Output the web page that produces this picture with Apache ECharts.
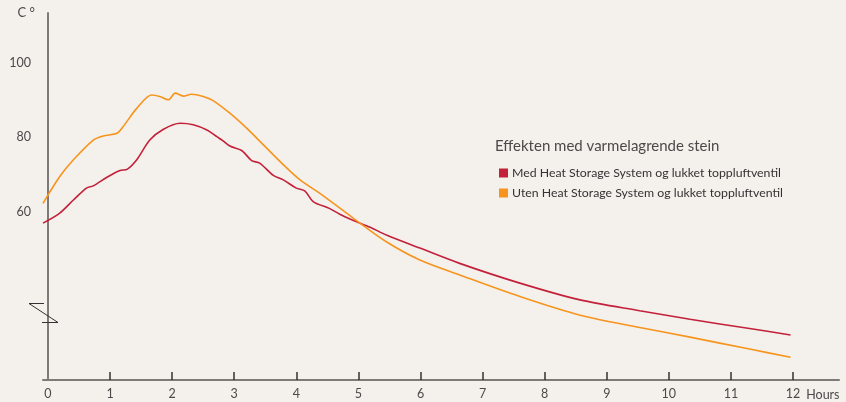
<!DOCTYPE html>
<html>
<head>
<meta charset="utf-8">
<script src="https://cdn.jsdelivr.net/npm/echarts@6/dist/echarts.min.js"></script>
<style>
  html, body { margin: 0; padding: 0; background: #f4f1ec; }
  #chart { width: 846px; height: 402px; }
</style>
</head>
<body>
<div id="chart"></div>
<script>
const hourTicks = [0, 1, 2, 3, 4, 5, 6, 7, 8, 9, 10, 11, 12];
const tempTicks = [60, 80, 100];

// Med Heat Storage System (red)
const medHours = [-0.08, 0.19, 0.41, 0.62, 0.73, 0.95, 1.16, 1.28, 1.43, 1.64, 1.86, 2.13, 2.34, 2.56, 2.72, 2.82, 2.93, 3.12, 3.28, 3.41, 3.63, 3.79, 4.0, 4.14, 4.27, 4.54, 4.70, 4.92, 5.19, 5.45, 5.99, 6.63, 7.60, 8.57, 9.53, 10.34, 11.30, 11.96];
const medTemp = [57.0, 59.7, 63.2, 66.4, 67.0, 69.3, 71.1, 71.5, 74.0, 79.3, 82.2, 83.8, 83.4, 82.0, 80.2, 79.1, 77.7, 76.5, 73.8, 73.1, 69.8, 68.6, 66.4, 65.6, 62.8, 60.9, 59.4, 57.7, 55.9, 53.8, 50.3, 46.2, 40.9, 36.4, 33.5, 31.2, 28.7, 27.0];

// Uten Heat Storage System (orange)
const utenHours = [-0.08, 0.19, 0.41, 0.73, 0.89, 1.11, 1.21, 1.43, 1.67, 1.80, 1.94, 2.05, 2.18, 2.31, 2.50, 2.66, 2.93, 3.20, 3.47, 3.74, 4.06, 4.38, 4.92, 5.45, 5.99, 6.63, 7.60, 8.57, 9.53, 10.34, 11.30, 11.96];
const utenTemp = [62.3, 69.5, 74.0, 79.3, 80.4, 81.1, 82.9, 87.8, 91.4, 91.0, 90.1, 91.9, 91.1, 91.6, 91.0, 89.9, 86.5, 82.5, 78.0, 73.5, 68.6, 65.0, 58.3, 52.0, 47.1, 43.1, 37.3, 32.3, 29.0, 26.4, 23.2, 21.0];

const seriesNames = ['Med Heat Storage System og lukket toppluftventil', 'Uten Heat Storage System og lukket toppluftventil'];
const chartTitle = 'Effekten med varmelagrende stein';

const BG = '#f4f1ec';
const AXIS = '#7e7a77';
const TXT = '#4a4a4a';
const FONT = 'Lato, "Open Sans", sans-serif';

const chart = echarts.init(document.getElementById('chart'));

chart.setOption({
    backgroundColor: BG,
    animation: false,
    textStyle: { fontFamily: FONT },
    title: {
        text: chartTitle,
        left: 495, top: 139, padding: 0,
        textStyle: { fontSize: 15, fontWeight: 'normal', color: TXT, fontFamily: FONT }
    },
    legend: {
        orient: 'vertical',
        left: 499, top: 167, padding: 0,
        itemWidth: 9, itemHeight: 9, itemGap: 8,
        icon: 'rect',
        textStyle: { fontSize: 12.3, color: '#333', fontFamily: FONT, padding: [0, 0, 0, -1] },
        data: seriesNames
    },
    grid: { left: 43, right: 7, top: 13, bottom: 22, containLabel: false },
    xAxis: {
        type: 'value',
        min: -0.08, max: 12.74,
        name: 'Hours',
        nameLocation: 'end',
        nameGap: 0,
        nameTextStyle: { align: 'right', verticalAlign: 'top', padding: [8, 0, 0, 0], fontSize: 12.5, color: TXT },
        axisLine: { lineStyle: { color: AXIS, width: 2 } },
        axisTick: { show: true, inside: true, length: 8, lineStyle: { color: '#333', width: 1.5 }, customValues: hourTicks.slice(1) },
        axisLabel: { margin: 7, fontSize: 12.5, color: TXT, customValues: hourTicks },
        splitLine: { show: false }
    },
    yAxis: {
        type: 'value',
        min: 14.9, max: 113.4,
        name: 'C °',
        nameLocation: 'end',
        nameGap: 0,
        nameTextStyle: { align: 'right', verticalAlign: 'middle', padding: [0, 13, 0, 0], fontSize: 13, color: TXT },
        axisLine: { show: true, lineStyle: { color: AXIS, width: 2 } },
        axisTick: { show: false },
        axisLabel: { margin: 12, fontSize: 12.5, color: TXT, customValues: tempTicks },
        splitLine: { show: false }
    },
    series: [
        {
            name: seriesNames[0],
            type: 'line',
            smooth: 0.3,
            showSymbol: false,
            color: '#c3203a',
            lineStyle: { width: 1.6 },
            data: medHours.map((h, i) => [h, medTemp[i]])
        },
        {
            name: seriesNames[1],
            type: 'line',
            smooth: 0.3,
            showSymbol: false,
            color: '#f7941d',
            lineStyle: { width: 1.6 },
            data: utenHours.map((h, i) => [h, utenTemp[i]])
        }
    ],
    graphic: [
        { type: 'rect', z: 100, shape: { x: 40, y: 304, width: 6, height: 18 }, style: { fill: BG } },
        { type: 'polyline', z: 101, shape: { points: [[44, 303.5], [29, 303.5], [58, 322.5], [42, 322.5]] }, style: { stroke: '#333', lineWidth: 1, fill: null } }
    ]
});
</script>
</body>
</html>
